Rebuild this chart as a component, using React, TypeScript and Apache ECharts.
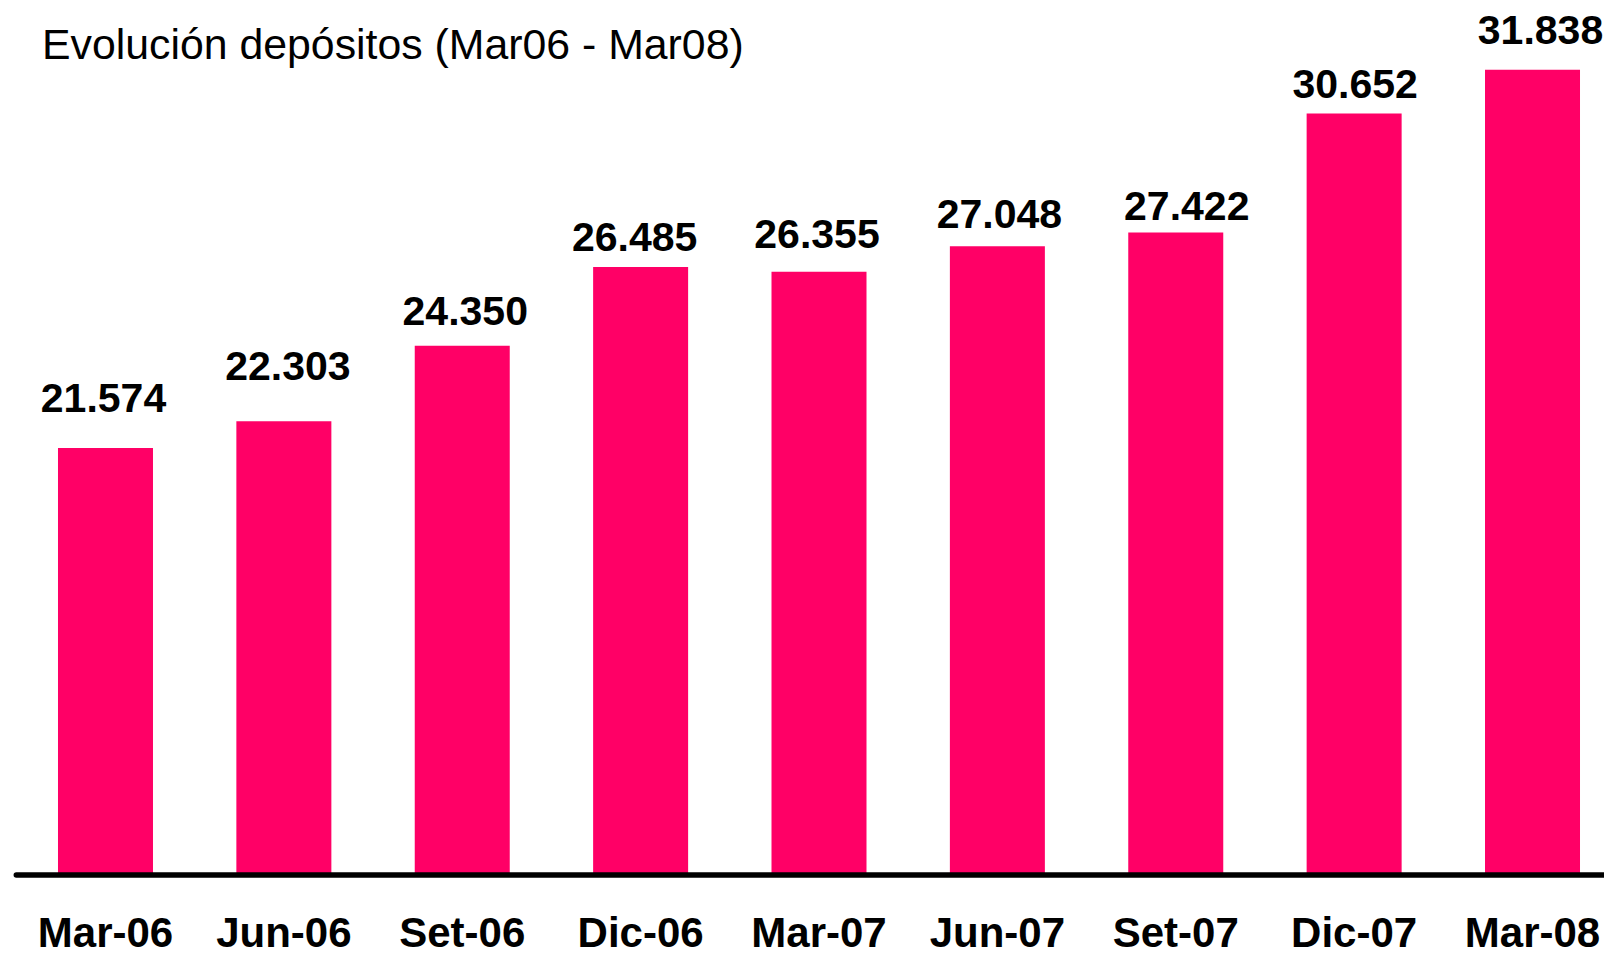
import React, { useEffect, useRef } from "react";
import * as echarts from "echarts";

// ---- data ----
const categories = ["Mar-06", "Jun-06", "Set-06", "Dic-06", "Mar-07", "Jun-07", "Set-07", "Dic-07", "Mar-08"];
const depositos = [21574, 22303, 24350, 26485, 26355, 27048, 27422, 30652, 31838];
const titleText = "Evolución depósitos (Mar06 - Mar08)";
const axisMin = 10000;
const axisMax = 32000;

// ---- styling: small nudges mirroring the hand-placed value labels ----
const labelNudge: number[][] = [
  [-2, -29], [4, -35], [3, -14], [-6, -10], [-2, -17], [2, -12], [11, -6], [1, -9], [8, -19],
];

const FONT = "'Liberation Sans', Arial, Helvetica, sans-serif";

const fmt = (v: number) => Math.floor(v / 1000) + "." + String(v % 1000).padStart(3, "0");

export default function App() {
  const ref = useRef<HTMLDivElement>(null);

  useEffect(() => {
    if (!ref.current) return;
    const chart = echarts.init(ref.current, undefined, { renderer: "svg" });
    chart.setOption({
      animation: false,
      backgroundColor: "#ffffff",
      title: {
        text: titleText,
        left: 42,
        top: 22.6,
        padding: 0,
        textStyle: { fontFamily: FONT, fontSize: 42.8, fontWeight: "normal", color: "#000" },
      },
      grid: {
        left: 16.3,
        width: 1605.4,
        top: 63.8,
        bottom: 81.5,
        containLabel: false,
        outerBoundsMode: "none",
      },
      xAxis: {
        type: "category",
        data: categories,
        z: 10,
        axisLine: { show: true, lineStyle: { color: "#000", width: 5.5, cap: "round" } },
        axisTick: { show: false },
        splitLine: { show: false },
        axisLabel: {
          interval: 0,
          margin: 38.3,
          fontFamily: FONT,
          fontSize: 42,
          lineHeight: 39,
          fontWeight: "bold",
          color: "#000",
        },
      },
      yAxis: {
        type: "value",
        min: axisMin,
        max: axisMax,
        show: false,
        splitLine: { show: false },
      },
      series: [
        {
          type: "bar",
          barWidth: 95,
          itemStyle: { color: "#FF0066" },
          label: {
            show: true,
            position: "top",
            distance: 0,
            fontFamily: FONT,
            fontSize: 41,
            fontWeight: "bold",
            color: "#000",
            formatter: (p: any) => fmt(p.value),
          },
          data: depositos.map((v, i) => ({ value: v, label: { offset: labelNudge[i] } })),
        },
      ],
    });
    return () => chart.dispose();
  }, []);

  return (
    <div
      ref={ref}
      style={{ position: "fixed", left: 0, top: 0, width: 1604, height: 956, background: "#fff" }}
    />
  );
}
